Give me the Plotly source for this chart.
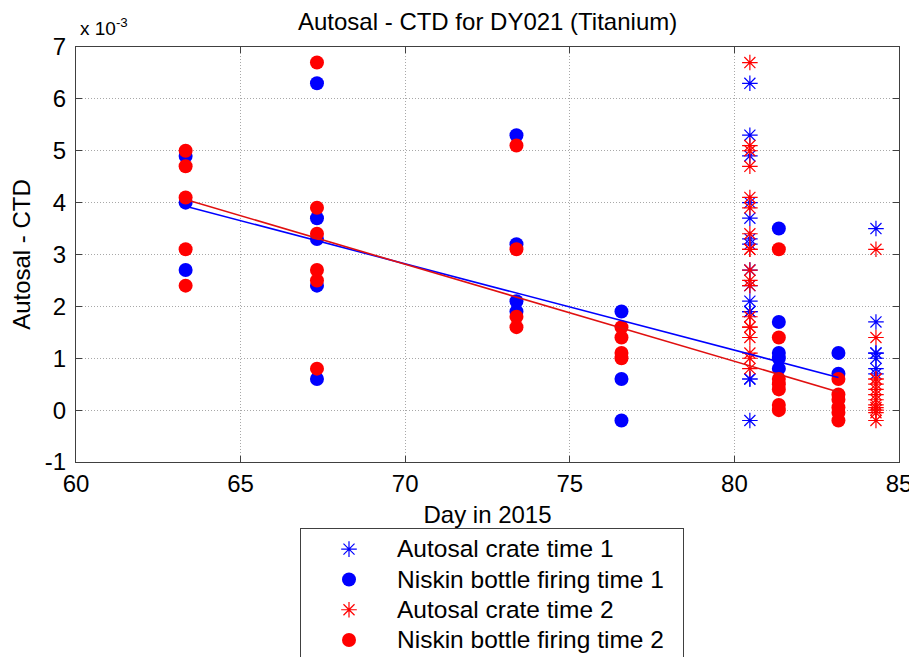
import plotly.graph_objects as go

# ---- data (values in units of 1e-3) ----
niskin_days = [63.33, 67.32, 73.38, 76.57, 81.35, 83.16]
crate_times = [80.47, 80.47, 80.47, 80.47, 84.3, 84.3]

time1_values = [
    [4.9, 4.0, 2.7],
    [6.3, 3.7, 3.3, 2.4, 0.6],
    [5.3, 3.2, 2.1, 1.9],
    [1.9, 0.6, -0.2],
    [3.5, 1.7, 1.1, 1.0, 0.8],
    [1.1, 0.7],
]
time2_values = [
    [5.0, 4.7, 4.1, 3.1, 2.4],
    [6.7, 3.9, 3.4, 2.7, 2.5, 0.8],
    [5.1, 3.1, 1.8, 1.6],
    [1.6, 1.4, 1.1, 1.0],
    [3.1, 1.4, 0.6, 0.5, 0.4, 0.1, 0.0],
    [0.6, 0.3, 0.2, 0.05, -0.05, -0.2],
]

fit_days = [63.33, 83.16]
fit_time1 = [3.93, 0.63]
fit_time2 = [4.06, 0.35]

x_ticks = [60, 65, 70, 75, 80, 85]
y_ticks = [-1, 0, 1, 2, 3, 4, 5, 6, 7]

legend_names = ["Autosal crate time 1", "Niskin bottle firing time 1",
                "Autosal crate time 2", "Niskin bottle firing time 2"]

BLUE = "#0000ff"
RED = "#ff0000"
FONT = "Liberation Sans, Arial, sans-serif"

# page body adds an 8px offset; layout in figure pixels
W, H = 917, 657
ML, MT, MR, MB = 68, 39, 26, 203
PLOT_W = W - ML - MR
PLOT_H = H - MT - MB
PLOT_BOTTOM = MT + PLOT_H


def expand(times, values):
    xs, ys = [], []
    for t, vals in zip(times, values):
        for v in vals:
            xs.append(t)
            ys.append(v)
    return xs, ys


def lname(s):
    return '<span style="font-size:24.5px">' + s + '\u00a0\u00a0</span>'


def py(pix):
    return (PLOT_BOTTOM - pix) / PLOT_H


fig = go.Figure()

cx1, cy1 = expand(crate_times, time1_values)
nx1, ny1 = expand(niskin_days, time1_values)
cx2, cy2 = expand(crate_times, time2_values)
nx2, ny2 = expand(niskin_days, time2_values)

fig.add_trace(go.Scatter(x=cx1, y=cy1, mode="markers", name=lname(legend_names[0]),
                         marker=dict(symbol="asterisk-open", size=13, color=BLUE,
                                     line=dict(color=BLUE, width=1.2))))
fig.add_trace(go.Scatter(x=nx1, y=ny1, mode="markers", name=lname(legend_names[1]),
                         marker=dict(symbol="circle", size=14, color=BLUE, line=dict(width=0))))
fig.add_trace(go.Scatter(x=cx2, y=cy2, mode="markers", name=lname(legend_names[2]),
                         marker=dict(symbol="asterisk-open", size=13, color=RED,
                                     line=dict(color=RED, width=1.2))))
fig.add_trace(go.Scatter(x=nx2, y=ny2, mode="markers", name=lname(legend_names[3]),
                         marker=dict(symbol="circle", size=14, color=RED, line=dict(width=0))))
fig.add_trace(go.Scatter(x=fit_days, y=fit_time1, mode="lines", showlegend=False,
                         line=dict(color=BLUE, width=1.6)))
fig.add_trace(go.Scatter(x=fit_days, y=fit_time2, mode="lines", showlegend=False,
                         line=dict(color="#e01010", width=1.6)))

axis_common = dict(
    showline=True, linecolor="#404040", linewidth=1, mirror="all",
    ticks="inside", ticklen=6, tickcolor="#404040",
    showgrid=True, gridcolor="#a8a8a8", griddash="1px,2px", gridwidth=1,
    zeroline=False, automargin=False,
    tickfont=dict(family=FONT, size=24, color="#000000"),
)

fig.update_xaxes(range=[60, 85], tickvals=x_ticks, ticktext=[str(v) for v in x_ticks],
                 title=dict(text="Day in 2015", font=dict(family=FONT, size=24, color="#000"), standoff=10),
                 **axis_common)
fig.update_yaxes(range=[-1, 7], tickvals=y_ticks, ticktext=[str(v) for v in y_ticks],
                 title=dict(text="Autosal - CTD", font=dict(family=FONT, size=24, color="#000"), standoff=10),
                 ticklabelstandoff=4, **axis_common)

fig.update_layout(
    width=W, height=H,
    margin=dict(l=ML, r=MR, t=MT, b=MB, autoexpand=False),
    paper_bgcolor="#ffffff", plot_bgcolor="#ffffff",
    font=dict(family=FONT, size=24, color="#000000"),
    legend=dict(x=(292 - ML) / PLOT_W, y=py(520), xanchor="left", yanchor="top",
                bordercolor="#404040", borderwidth=1, bgcolor="#ffffff",
                font=dict(family=FONT, size=21, color="#000"), itemwidth=86,
                tracegroupgap=0),
    annotations=[
        dict(text="Autosal - CTD for DY021 (Titanium)", x=0.5, y=py(13), xref="paper", yref="paper",
             showarrow=False, xanchor="center", yanchor="middle",
             font=dict(family=FONT, size=24, color="#000")),
        dict(text="x 10<sup>-3</sup>", x=(70 - ML) / PLOT_W, y=py(19), xref="paper", yref="paper",
             showarrow=False, xanchor="left", yanchor="middle",
             font=dict(family=FONT, size=19, color="#000")),
    ],
)

fig.write_html("out.html")
